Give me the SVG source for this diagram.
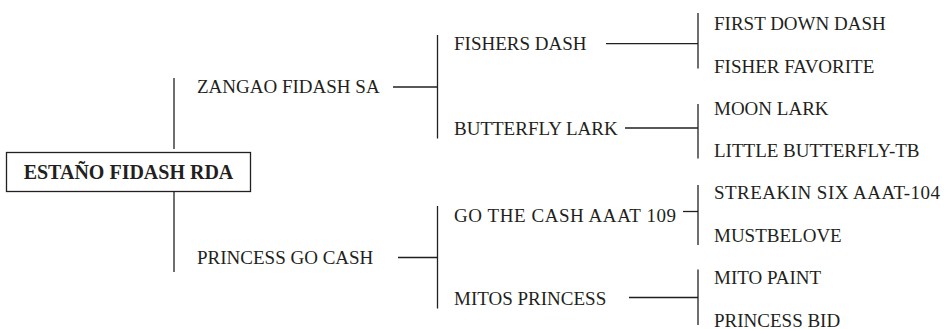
<svg xmlns="http://www.w3.org/2000/svg" width="951" height="329" viewBox="0 0 951 329">
<style>
text{font-family:"Liberation Serif","Times New Roman",serif;font-size:19px;fill:#231f20}
.b{font-weight:bold;font-size:20px}
.c line,.box{stroke:#231f20;stroke-width:1.3;fill:none}
</style>
<rect x="0" y="0" width="951" height="329" fill="#fff"/>
<g id="connectors" class="c">
<line x1="174" y1="78" x2="174" y2="149"/>
<line x1="174" y1="192" x2="174" y2="272"/>
<line x1="393" y1="87" x2="437.5" y2="87"/>
<line x1="437.5" y1="35" x2="437.5" y2="138.5"/>
<line x1="398" y1="257.5" x2="437.5" y2="257.5"/>
<line x1="437.5" y1="206" x2="437.5" y2="308.5"/>
<line x1="606" y1="43.7" x2="698" y2="43.7"/>
<line x1="698" y1="13" x2="698" y2="68.5"/>
<line x1="625" y1="128" x2="698" y2="128"/>
<line x1="698" y1="104" x2="698" y2="158.5"/>
<line x1="683" y1="211.5" x2="698" y2="211.5"/>
<line x1="698" y1="185" x2="698" y2="245"/>
<line x1="629" y1="297.5" x2="698" y2="297.5"/>
<line x1="698" y1="269.5" x2="698" y2="325"/>
</g>
<g id="root"><rect class="box" x="6.5" y="152.5" width="244" height="39"/><text class="b" x="128.5" y="179" text-anchor="middle">ESTAÑO FIDASH RDA</text></g>
<g id="zangao"><text x="197" y="93">ZANGAO FIDASH SA</text></g>
<g id="princess-go-cash"><text x="197" y="264">PRINCESS GO CASH</text></g>
<g id="fishers-dash"><text x="454" y="50">FISHERS DASH</text></g>
<g id="butterfly-lark"><text x="454" y="135">BUTTERFLY LARK</text></g>
<g id="go-the-cash"><text x="454" y="222" textLength="222" lengthAdjust="spacing">GO THE CASH AAAT 109</text></g>
<g id="mitos-princess"><text x="454" y="305">MITOS PRINCESS</text></g>
<g id="first-down-dash"><text x="714" y="29.5">FIRST DOWN DASH</text></g>
<g id="fisher-favorite"><text x="714" y="72.5">FISHER FAVORITE</text></g>
<g id="moon-lark"><text x="714" y="114.5">MOON LARK</text></g>
<g id="little-butterfly"><text x="714" y="157">LITTLE BUTTERFLY-TB</text></g>
<g id="streakin-six"><text x="714" y="198.5" textLength="226" lengthAdjust="spacing">STREAKIN SIX AAAT-104</text></g>
<g id="mustbelove"><text x="714" y="242">MUSTBELOVE</text></g>
<g id="mito-paint"><text x="714" y="283.5">MITO PAINT</text></g>
<g id="princess-bid"><text x="714" y="326.5">PRINCESS BID</text></g>
</svg>
